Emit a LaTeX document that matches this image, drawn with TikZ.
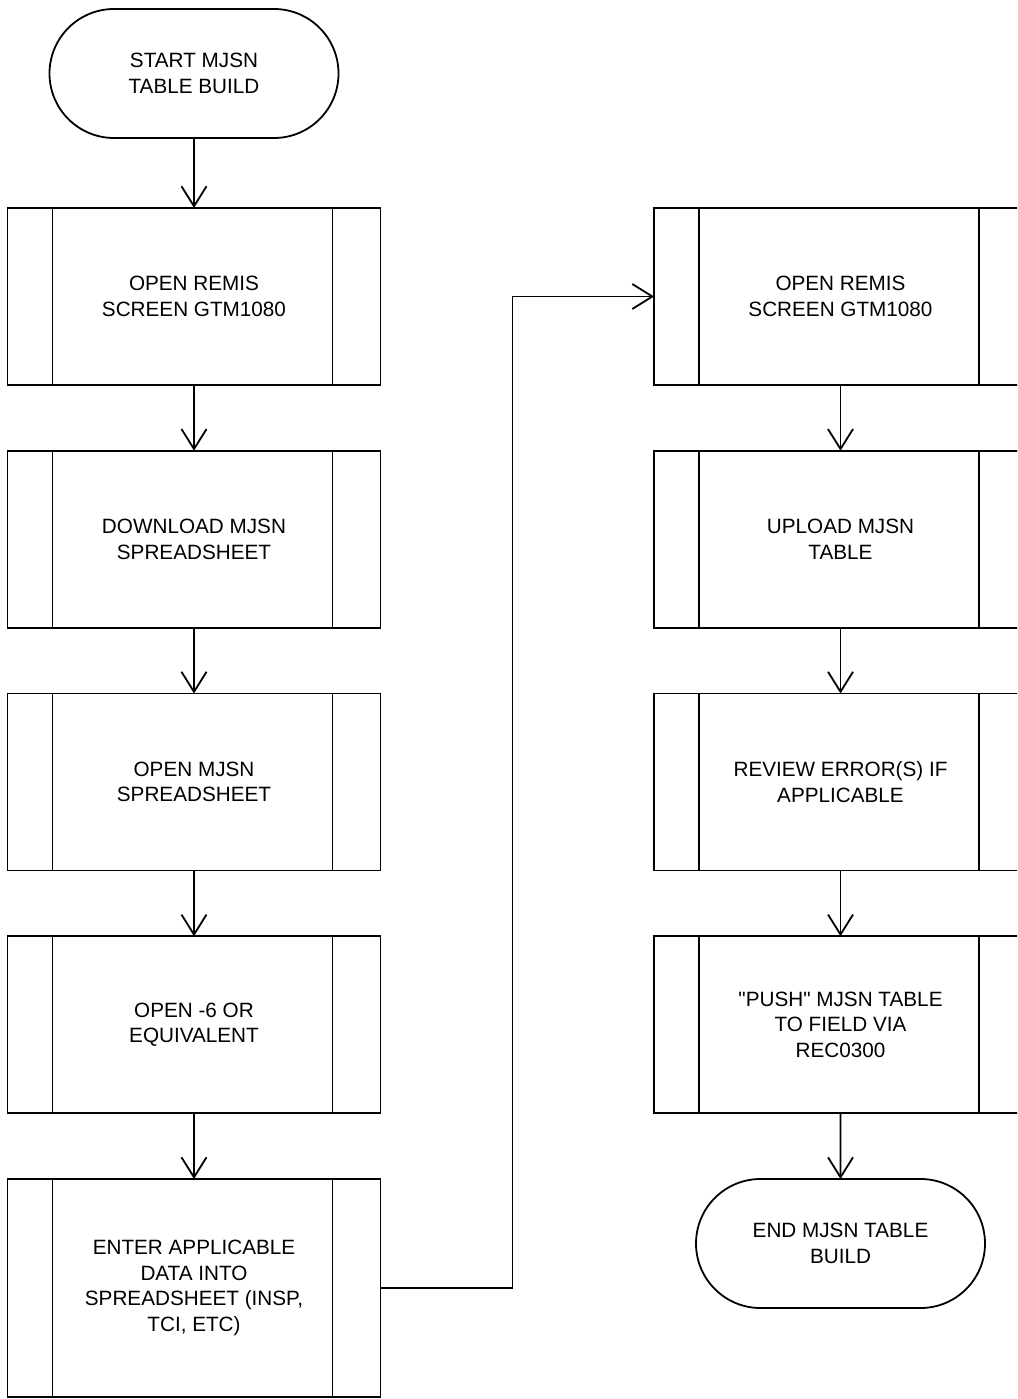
\documentclass[tikz,border=0pt]{standalone}
\usepackage{fontspec}
\setmainfont{Liberation Sans}
\usetikzlibrary{arrows.meta, positioning, shapes.misc}

\begin{document}
\begin{tikzpicture}[
    x=1pt, y=-1pt, line width=1.8pt,
    node distance=65.75pt,
    terminal/.style={draw, rounded rectangle, minimum width=289pt,
                     minimum height=129pt, align=center, inner sep=0pt,
                     outer sep=0pt, font=\fontsize{20.7}{25.5}\selectfont},
    subproc/.style={draw, rectangle, minimum width=373pt, minimum height=177pt,
                    align=center, inner sep=0pt, outer sep=0pt,
                    font=\fontsize{20.7}{25.5}\selectfont,
                    path picture={
                      \draw ([xshift=45pt]path picture bounding box.north west)
                         -- ([xshift=45pt]path picture bounding box.south west);
                      \draw ([xshift=-48pt]path picture bounding box.north east)
                         -- ([xshift=-48pt]path picture bounding box.south east);}},
    line/.style={draw, -{Straight Barb[length=20pt, width=25pt]}}
]
    \useasboundingbox (0,0) rectangle (1017,1399);
    \clip (0,0) rectangle (1017,1399);

    % left column
    \node[terminal] (start) at (194,73.5) {START MJSN\\TABLE BUILD};
    \node[subproc, below=70pt of start] (remisA)   {OPEN REMIS\\SCREEN GTM1080};
    \node[subproc, below=of remisA]     (download) {DOWNLOAD MJSN\\SPREADSHEET};
    \node[subproc, below=of download]   (opensheet) {OPEN MJSN\\SPREADSHEET};
    \node[subproc, below=of opensheet]  (opensix)  {OPEN -6 OR\\EQUIVALENT};
    \node[subproc, below=of opensix, minimum height=218pt] (enter)
        {ENTER APPLICABLE\\DATA INTO\\SPREADSHEET (INSP,\\TCI, ETC)};

    % right column
    \node[subproc] (remisB) at (840.5,296.5) {OPEN REMIS\\SCREEN GTM1080};
    \node[subproc, below=of remisB]  (upload) {UPLOAD MJSN\\TABLE};
    \node[subproc, below=of upload]  (review) {REVIEW ERROR(S) IF\\APPLICABLE};
    \node[subproc, below=of review]  (push)
        {\textquotedbl PUSH\textquotedbl{} MJSN TABLE\\TO FIELD VIA\\REC0300};
    \node[terminal, below=of push]   (finish) {END MJSN TABLE\\BUILD};

    \draw[line] (start)     -- (remisA);
    \draw[line] (remisA)    -- (download);
    \draw[line] (download)  -- (opensheet);
    \draw[line] (opensheet) -- (opensix);
    \draw[line] (opensix)   -- (enter);
    \draw[line] (enter.east) -- ++(132,0) |- (remisB.west);
    \draw[line] (remisB)    -- (upload);
    \draw[line] (upload)    -- (review);
    \draw[line] (review)    -- (push);
    \draw[line] (push)      -- (finish);

\end{tikzpicture}
\end{document}
